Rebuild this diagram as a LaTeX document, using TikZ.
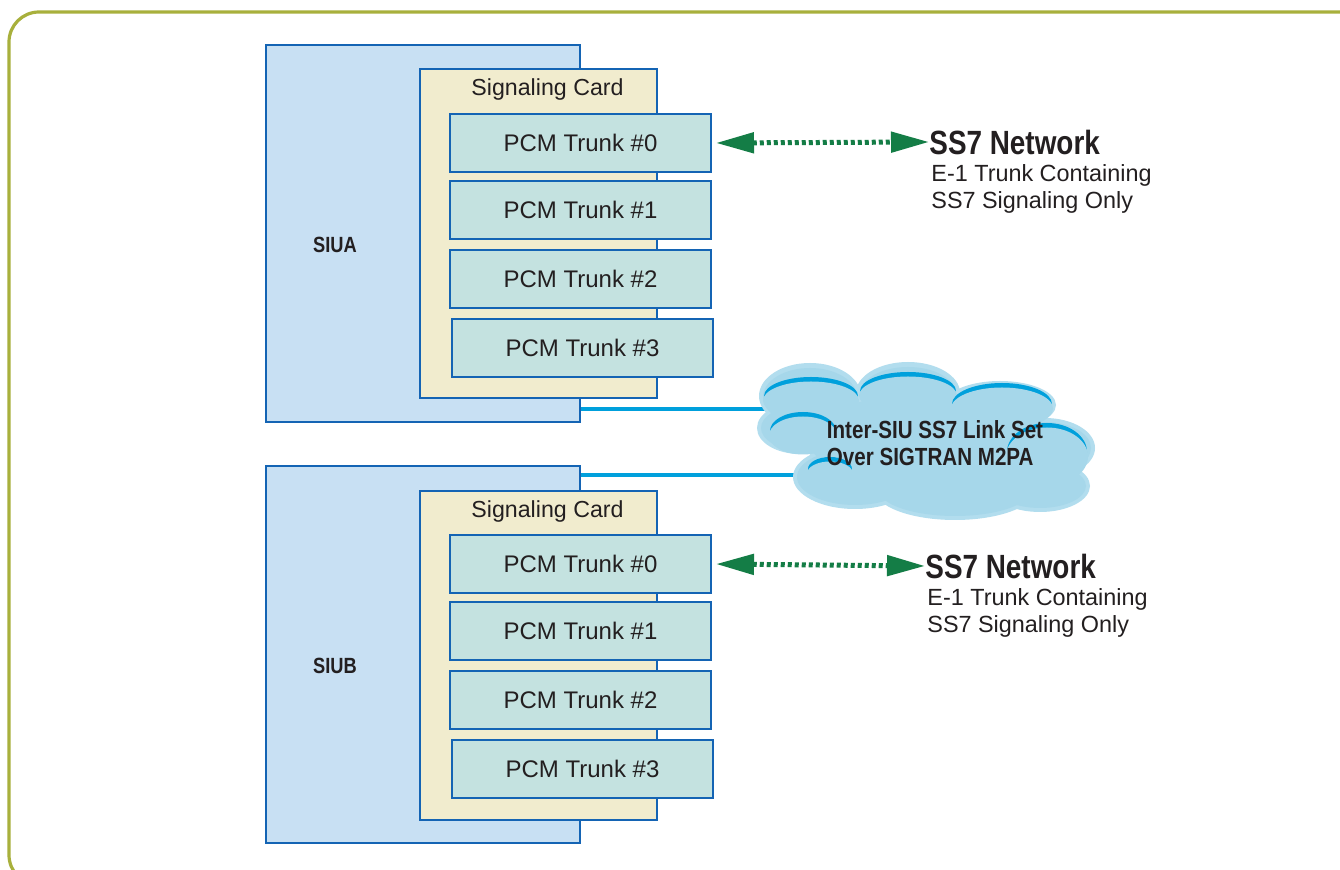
\documentclass[tikz,border=0pt]{standalone}
\usepackage{fontspec}
\setmainfont{Liberation Sans}
\newfontfamily\condbf[FakeStretch=0.83]{Liberation Sans Bold}
\usetikzlibrary{arrows.meta,positioning}

\definecolor{frameolive}{RGB}{168,176,60}
\definecolor{siufill}{RGB}{200,224,243}
\definecolor{boxline}{RGB}{20,100,180}
\definecolor{cardfill}{RGB}{241,236,206}
\definecolor{trunkfill}{RGB}{196,226,224}
\definecolor{sigreen}{RGB}{20,125,70}
\definecolor{linkblue}{RGB}{0,160,220}
\definecolor{cloudfill}{RGB}{166,215,234}
\definecolor{cloudedge}{RGB}{178,221,238}
\definecolor{inkgray}{RGB}{35,31,32}

\tikzset{
  siubox/.style={draw=boxline,line width=1pt,fill=siufill,anchor=north west,
    minimum width=157pt,minimum height=188.5pt,inner sep=0pt},
  cardbox/.style={draw=boxline,line width=1pt,fill=cardfill,anchor=north west,
    minimum width=118.5pt,minimum height=164.5pt,inner sep=0pt},
  trunkbox/.style={draw=boxline,line width=1pt,fill=trunkfill,anchor=north west,
    minimum width=130.5pt,minimum height=29pt,inner sep=0pt,text=inkgray,
    font=\fontsize{12}{14}\selectfont},
  cardtext/.style={text=inkgray,font=\fontsize{11.6}{14}\selectfont,inner sep=0pt,anchor=north},
  siulabel/.style={text=inkgray,font=\condbf\fontsize{11}{13}\selectfont,inner sep=0pt},
  nettitle/.style={text=inkgray,font=\condbf\fontsize{16.8}{18}\selectfont,inner sep=0pt,anchor=west},
  netsub/.style={text=inkgray,font=\fontsize{11.7}{13.5}\selectfont,inner sep=0pt,
    anchor=north west,align=left},
  sigarrow/.style={draw=sigreen,line width=2.5pt,dash pattern=on 2pt off 1.5pt,
    {Triangle[length=19pt,width=10pt,fill=sigreen]}-{Triangle[length=19pt,width=10pt,fill=sigreen]},
    shorten <=2pt},
  link/.style={draw=linkblue,line width=2pt}
}

\begin{document}
\begin{tikzpicture}[x=0.5pt,y=-0.5pt]
\useasboundingbox (0,0) rectangle (1340,870);
\clip (0,0) rectangle (1340,870);
\fill[white] (0,0) rectangle (1340,870);
\draw[frameolive,line width=1.6pt,rounded corners=15pt] (9,12) rectangle (1400,885);

% links to the cloud, drawn first so the cloud covers their ends
\coordinate (linka) at (800,409);
\coordinate (linkb) at (830,475);

% SIUA
\node[siubox] (siua) at (265,44) {};
\node[siulabel] at (335,245) {SIUA};
\node[cardbox] (carda) at (419,68) {};
\node[cardtext] at ([xshift=4.5pt,yshift=-5pt]carda.north) {Signaling Card};
\foreach \i/\x/\y in {0/449/113,1/449/180,2/449/249,3/451/318}
  \node[trunkbox] (ta\i) at (\x,\y) {PCM Trunk \#\i};

% SIUB
\node[siubox] (siub) at (265,465) {};
\node[siulabel] at (335,666) {SIUB};
\node[cardbox] (cardb) at (419,490) {};
\node[cardtext] at ([xshift=4.5pt,yshift=-5pt]cardb.north) {Signaling Card};
\foreach \i/\x/\y in {0/449/534,1/449/601,2/449/670,3/451/739}
  \node[trunkbox] (tb\i) at (\x,\y) {PCM Trunk \#\i};

\draw[link] (siua.east |- linka) -- (linka);
\draw[link] (siub.east |- linkb) -- (linkb);

% cloud, built from puffs: light edge first, then the body
\foreach \cx/\cy/\rx/\ry in {925/440/120/50,810/396/51/33,908/393/52/31,1000/405/56/24,
    1045/448/50/30,1040/486/50/26,955/490/80/30,855/477/62/32,800/428/43/26}{
  \fill[cloudedge] (\cx,\cy) ellipse [x radius=\rx,y radius=\ry];
}
\foreach \cx/\cy/\rx/\ry in {925/440/116/46,810/397/47/29,908/394/48/27,1000/406/52/20,
    1045/448/46/26,1040/486/46/22,955/490/76/26,855/477/58/28,800/428/39/22}{
  \fill[cloudfill] (\cx,\cy) ellipse [x radius=\rx,y radius=\ry];
}
% darker rims along the upper edges of the puffs
\foreach \cx/\cy/\rx/\ry in {811/396/47/19,908/391/48/19,1002/404/50/21,1047/452/40/29,
    803/431/33/19,830/469/22/12}{
  \fill[linkblue] (\cx,\cy) ellipse [x radius=\rx,y radius=\ry];
  \fill[cloudfill] (\cx,\cy+4.5) ellipse [x radius=\rx+1,y radius=\ry];
}
\coordinate (cloudc) at (935,443);
\node[text=inkgray,font=\condbf\fontsize{12.4}{13.5}\selectfont,align=left,inner sep=0pt]
  (cloudtext) at (cloudc) {Inter-SIU SS7 Link Set\\Over SIGTRAN M2PA};

% SS7 networks
\node[nettitle] (neta) at (929,142) {SS7 Network};
\node[netsub] (netasub) at ([xshift=1pt,yshift=-4.5pt]neta.south west) {E-1 Trunk Containing\\SS7 Signaling Only};
\node[nettitle] (netb) at (925,566) {SS7 Network};
\node[netsub] (netbsub) at ([xshift=1pt,yshift=-4.5pt]netb.south west) {E-1 Trunk Containing\\SS7 Signaling Only};

\draw[sigarrow] (ta0.east) -- (neta.west);
\draw[sigarrow] (tb0.east) -- (netb.west);
\end{tikzpicture}
\end{document}
